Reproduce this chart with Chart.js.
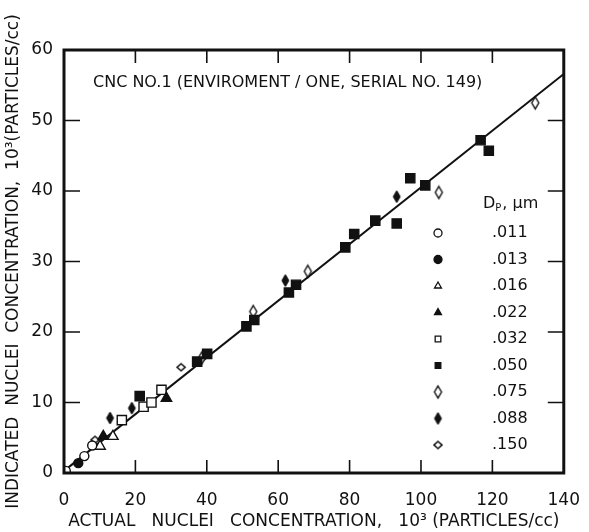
<!DOCTYPE html>
<html lang="en">
<head>
<meta charset="UTF-8">
<title>CNC No.1 - Indicated vs Actual</title>
<script src="https://cdn.jsdelivr.net/npm/chart.js"></script>
<style>
body { margin: 0; background: #fff; }
#wrap { width: 589px; height: 532px; }
</style>
</head>
<body>
<div id="wrap"><canvas id="grafico" width="589" height="532"></canvas></div>
<script>
// ejes
var xMin = 0, xMax = 140, xStep = 20;
var yMin = 0, yMax = 60, yStep = 10;
var xTickMarks = [20, 40, 60, 80, 100, 120];
var yTickMarks = [10, 20, 30, 40, 50];

// textos
var tituloX = 'ACTUAL   NUCLEI   CONCENTRATION,   10\u00B3 (PARTICLES/cc)';
var tituloY = 'INDICATED  NUCLEI  CONCENTRATION,  10\u00B3(PARTICLES/cc)';
var rotulo = 'CNC NO.1 (ENVIROMENT / ONE, SERIAL NO. 149)';
var tamanos = ['.011', '.013', '.016', '.022', '.032', '.050', '.075', '.088', '.150'];

// datos [actual, indicado] por diametro Dp
var d011 = [[0.5, 0.3], [5.7, 2.4], [7.9, 3.9]];
var d013 = [[4.0, 1.4]];
var d016 = [[10.1, 3.8], [13.7, 5.2]];
var d022 = [[11.0, 5.2], [28.7, 10.6]];
var d032 = [[16.2, 7.5], [22.3, 9.4], [24.5, 10.0], [27.3, 11.8]];
var d050 = [[21.2, 10.9], [37.3, 15.8], [40.1, 16.9], [51.1, 20.8], [53.3, 21.7],
            [63.0, 25.6], [65.0, 26.7], [78.8, 32.0], [81.3, 33.9], [87.2, 35.8],
            [93.2, 35.4], [97.0, 41.8], [101.2, 40.8], [116.7, 47.2], [119.0, 45.7]];
var d075 = [[38.6, 16.3], [53.0, 22.9], [68.3, 28.6], [105.0, 39.8], [132.0, 52.5]];
var d088 = [[12.9, 7.8], [19.0, 9.2], [62.0, 27.3], [93.2, 39.2]];
var d150 = [[8.7, 4.7], [32.8, 15.0]];

// recta de ajuste
var rectaX = [0, 140];
var rectaY = [0.3, 56.6];

var negro = '#111';
var fuente = 'DejaVu Sans, Arial, sans-serif';

// rombos alargados como en el original
function rombo(w, h, relleno, grosor) {
    var c = document.createElement('canvas');
    c.width = w + 4; c.height = h + 4;
    var g = c.getContext('2d');
    var cx = c.width / 2, cy = c.height / 2;
    g.beginPath();
    g.moveTo(cx, cy - h / 2);
    g.lineTo(cx + w / 2, cy);
    g.lineTo(cx, cy + h / 2);
    g.lineTo(cx - w / 2, cy);
    g.closePath();
    g.fillStyle = relleno ? negro : '#fff';
    g.fill();
    g.lineWidth = grosor;
    g.strokeStyle = negro;
    g.stroke();
    return c;
}
var romboAbierto = rombo(7, 12, false, 1.4);
var romboLleno = rombo(7, 12, true, 1);
var romboChico = rombo(8, 7, false, 1.6);

function puntos(arr) {
    return arr.map(function (p) { return { x: p[0], y: p[1] }; });
}

// estilo de cada serie: [pointStyle, relleno, radio]
var estilos = [
    ['circle', false, 4.5],
    ['circle', true, 4.5],
    ['triangle', false, 6],
    ['triangle', true, 6],
    ['rect', false, 6.5],
    ['rect', true, 6.5],
    [romboAbierto, false, 6],
    [romboLleno, true, 6],
    [romboChico, false, 5]
];
var series = [d011, d013, d016, d022, d032, d050, d075, d088, d150];

var datasets = series.map(function (s, i) {
    return {
        label: tamanos[i],
        data: puntos(s),
        pointStyle: estilos[i][0],
        pointRadius: estilos[i][2],
        pointBackgroundColor: estilos[i][1] ? negro : '#fff',
        pointBorderColor: negro,
        pointBorderWidth: 1.4,
        order: 0
    };
});
datasets.push({
    type: 'line',
    label: 'ajuste',
    data: rectaX.map(function (x, i) { return { x: x, y: rectaY[i] }; }),
    borderColor: negro,
    borderWidth: 2,
    pointRadius: 0,
    showLine: true,
    order: 1
});

// marco, marcas internas, rotulo y leyenda
var marco = {
    id: 'marco',
    afterDraw: function (chart) {
        var ctx = chart.ctx;
        var a = chart.chartArea;
        var sx = chart.scales.x, sy = chart.scales.y;
        ctx.save();
        ctx.strokeStyle = negro;
        ctx.lineWidth = 1.6;
        ctx.beginPath();
        xTickMarks.forEach(function (v) {
            var px = sx.getPixelForValue(v);
            ctx.moveTo(px, a.bottom); ctx.lineTo(px, a.bottom - 13);
            ctx.moveTo(px, a.top); ctx.lineTo(px, a.top + 13);
        });
        yTickMarks.forEach(function (v) {
            var py = sy.getPixelForValue(v);
            ctx.moveTo(a.left, py); ctx.lineTo(a.left + 16, py);
            ctx.moveTo(a.right, py); ctx.lineTo(a.right - 16, py);
        });
        ctx.stroke();
        ctx.lineWidth = 3;
        ctx.strokeRect(a.left, a.top, a.right - a.left, a.bottom - a.top);

        // rotulo
        ctx.fillStyle = negro;
        ctx.font = '16px ' + fuente;
        ctx.textBaseline = 'middle';
        ctx.textAlign = 'left';
        ctx.fillText(rotulo, a.left + 29, a.top + 33);

        // leyenda
        var lx = 438, tx = 492, ly = 233, paso = 26.5;
        ctx.font = '16px ' + fuente;
        ctx.fillText('D', 483, 204);
        var wD = ctx.measureText('D').width;
        ctx.font = '10px ' + fuente;
        ctx.fillText('P', 483 + wD, 208);
        var wP = ctx.measureText('P').width;
        ctx.font = '16px ' + fuente;
        ctx.fillText(', \u03BCm', 483 + wD + wP + 1, 204);
        tamanos.forEach(function (t, i) {
            var y = ly + i * paso;
            var st = estilos[i];
            ctx.fillStyle = st[1] ? negro : '#fff';
            ctx.strokeStyle = negro;
            ctx.lineWidth = 1.3;
            Chart.helpers.drawPoint(ctx, {
                pointStyle: st[0],
                radius: typeof st[0] === 'string' ? 4 : 5,
                borderWidth: 1.3,
                rotation: 0
            }, lx, y);
            ctx.fillStyle = negro;
            ctx.font = '16px ' + fuente;
            ctx.fillText(t, tx, y);
        });
        ctx.restore();
    }
};

var fuenteTicks = { family: fuente, size: 17 };
var fuenteTitulo = { family: fuente, size: 17 };

new Chart(document.getElementById('grafico'), {
    type: 'scatter',
    data: { datasets: datasets },
    options: {
        responsive: false,
        animation: false,
        layout: { padding: { top: 50, right: 18, left: 0, bottom: 0 } },
        plugins: {
            legend: { display: false },
            tooltip: { enabled: false }
        },
        scales: {
            x: {
                type: 'linear',
                min: xMin, max: xMax,
                grid: { display: false },
                border: { display: false },
                ticks: { stepSize: xStep, color: negro, font: fuenteTicks, padding: 9, maxRotation: 0, autoSkip: false },
                title: { display: true, text: tituloX, color: negro, font: fuenteTitulo, padding: { top: 0, bottom: 0 } },
                afterFit: function (s) { s.height = 59; }
            },
            y: {
                type: 'linear',
                min: yMin, max: yMax,
                grid: { display: false },
                border: { display: false },
                ticks: { stepSize: yStep, color: negro, font: fuenteTicks, padding: 3 },
                title: { display: true, text: tituloY, color: negro, font: fuenteTitulo, padding: { top: 3, bottom: 0 } },
                afterFit: function (s) { s.width = 64; }
            }
        }
    },
    plugins: [marco]
});
</script>
</body>
</html>
